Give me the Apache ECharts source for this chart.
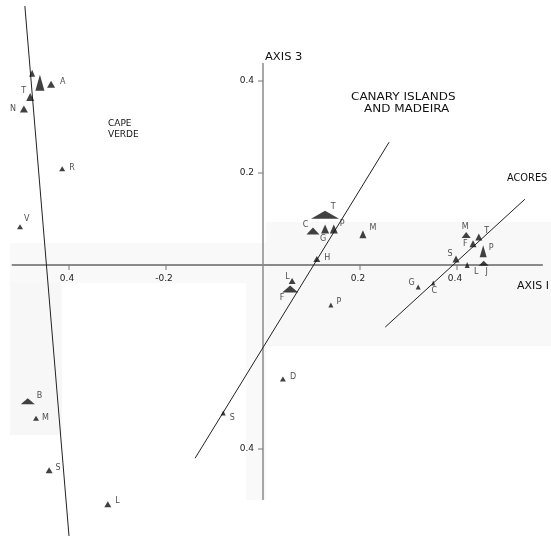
<!DOCTYPE html>
<html>
<head>
<meta charset="utf-8">
<script src="https://cdn.jsdelivr.net/npm/echarts@6/dist/echarts.min.js"></script>
<style>
  html, body { margin: 0; padding: 0; background: #fff; }
  #chart { width: 551px; height: 538px; }
</style>
</head>
<body>
<div id="chart"></div>
<script>
// ---- Island scores on axis 1 and axis 3 ----
const capeVerdeIslands = ['', '', 'A', 'T', 'N', 'R', 'V', 'B', 'M', 'S', 'L'];
const capeVerdeAxis1 = [-0.476, -0.460, -0.437, -0.480, -0.493, -0.414, -0.501, -0.485, -0.468, -0.441, -0.320];
const capeVerdeAxis3 = [0.417, 0.396, 0.393, 0.365, 0.339, 0.209, 0.083, -0.296, -0.333, -0.446, -0.520];

const canaryIslands = ['T', 'C', 'G', 'P', 'M', 'H', 'L', 'F', 'P', 'D', 'S'];
const canaryAxis1 = [0.128, 0.103, 0.128, 0.146, 0.206, 0.111, 0.060, 0.056, 0.140, 0.041, -0.082];
const canaryAxis3 = [0.109, 0.074, 0.078, 0.078, 0.067, 0.013, -0.035, -0.052, -0.087, -0.248, -0.322];

const acoresIslands = ['M', 'T', 'F', 'P', 'S', 'L', 'J', 'G', 'C'];
const acoresAxis1 = [0.419, 0.445, 0.433, 0.454, 0.398, 0.421, 0.455, 0.320, 0.351];
const acoresAxis3 = [0.065, 0.061, 0.046, 0.030, 0.013, 0.000, 0.004, -0.048, -0.039];

// Fitted trend line of each archipelago (two end points each)
const capeVerdeTrend = [[-0.491, 0.563], [-0.400, -0.589]];
const canaryTrend = [[-0.140, -0.420], [0.260, 0.267]];
const acoresTrend = [[0.252, -0.135], [0.540, 0.143]];

// Axis extents and tick labels
const axis1Extent = [-0.518, 0.577];
const axis3Extent = [0.439, -0.511];
const axis1Ticks = [-0.4, -0.2, 0.2, 0.4];
const axis1TickLabels = ['0.4', '-0.2', '0.2', '0.4'];
const axis3Ticks = [0.4, 0.2, -0.4];
const axis3TickLabels = ['0.4', '0.2', '0.4'];

// ---- Styling: marker sizes [w, h] and label placement [position, dx, dy] ----
const capeVerdeSizes = [[6,7],[9,16],[8,7],[8,8],[8,7],[6,5],[6,5],[14,6],[6,5],[7,6],[7,6]];
const capeVerdePlace = [['right',0,0],['right',0,0],['right',3,-2],['left',2,-6],['left',-2,0],['right',2,-1],
  ['right',-1,-8],['right',0,-5],['right',1,0],['right',1,-2],['right',2,-3]];
const canarySizes = [[28,8],[13,7],[8,9],[8,9],[7,8],[7,6],[7,6],[16,7],[5,5],[6,5],[5,5]];
const canaryPlace = [['top',8,2],['left',4,-6],['bottom',-2,-1],['right',0,-5],['right',1,-6],['right',2,-1],
  ['left',3,-4],['bottom',-8,0],['right',1,-3],['right',2,-2],['right',2,5]];
const acoresSizes = [[9,6],[7,7],[7,7],[7,12],[7,7],[5,6],[10,5],[5,5],[4,5]];
const acoresPlace = [['top',-1,1],['right',0,-6],['left',0,0],['right',0,-3],['left',2,-5],['bottom',9,-2],
  ['bottom',3,0],['left',1,-4],['bottom',1,-1]];

const INK = '#111';
const TEXT = '#222';
const HEAD = '#111';
const FONT = 'DejaVu Sans';

function islandPoints(names, a1, a3, sizes, place) {
  return names.map((n, i) => ({
    name: n,
    value: [a1[i], a3[i]],
    symbolSize: sizes[i],
    label: { show: n !== '', position: place[i][0], offset: [place[i][1], place[i][2]] }
  }));
}

function islandSeries(name, data) {
  return {
    name, type: 'scatter', symbol: 'triangle', data, z: 5,
    itemStyle: { color: INK },
    label: { formatter: '{b}', fontSize: 8, color: TEXT, fontFamily: FONT, distance: 2 },
    clip: false
  };
}

function trendSeries(data) {
  return {
    type: 'line', data, symbol: 'none', z: 3, clip: false,
    lineStyle: { color: '#222', width: 1 }, silent: true
  };
}

// Stretched lettering for the headings
function heading(text, x, y, size, stretch, lineHeight) {
  return {
    type: 'text', x, y, scaleX: stretch, scaleY: 1,
    style: { text, font: size + 'px "DejaVu Sans"', fill: HEAD, lineHeight: lineHeight || size + 2,
      textAlign: 'left', textVerticalAlign: 'top' }
  };
}

const tickData = axis1Ticks.map(v => [v, 0]).concat(axis3Ticks.map(v => [0, v]));

const chart = echarts.init(document.getElementById('chart'), null, { renderer: 'canvas' });
chart.setOption({
  animation: false,
  backgroundColor: '#fff',
  grid: { left: 1.1, right: 6.7, top: 2.8, bottom: 1.6, containLabel: false },
  xAxis: { type: 'value', min: -0.54, max: 0.58, show: false },
  yAxis: { type: 'value', min: -0.59, max: 0.57, show: false },
  graphic: [
    // faint grey patches of the printed page
    { type: 'rect', shape: { x: 266, y: 222, width: 285, height: 124 }, style: { fill: '#f8f8f8' }, z: -10 },
    { type: 'rect', shape: { x: 10, y: 243, width: 256, height: 40 }, style: { fill: '#f9f9f9' }, z: -10 },
    { type: 'rect', shape: { x: 10, y: 283, width: 52, height: 152 }, style: { fill: '#f7f7f7' }, z: -10 },
    { type: 'rect', shape: { x: 246, y: 283, width: 20, height: 217 }, style: { fill: '#f9f9f9' }, z: -10 },
    // headings
    heading('CAPE\nVERDE', 108, 118, 9, 1.0, 11),
    heading('CANARY ISLANDS', 351, 91, 10, 1.2),
    heading('AND MADEIRA', 364, 103, 10, 1.2),
    heading('ACORES', 507, 172, 10, 0.98),
    heading('AXIS 3', 265, 51, 10, 1.15),
    heading('AXIS I', 517, 280, 10, 1.1)
  ],
  series: [
    // main axes
    { type: 'line', data: [[axis1Extent[0], 0], [axis1Extent[1], 0]], symbol: 'none', z: 2, clip: false,
      lineStyle: { color: '#8a8a8a', width: 2 }, silent: true },
    { type: 'line', data: [[0, axis3Extent[0]], [0, axis3Extent[1]]], symbol: 'none', z: 2, clip: false,
      lineStyle: { color: '#8a8a8a', width: 1.5 }, silent: true },
    // tick marks and tick labels
    {
      type: 'custom', data: tickData, z: 4, clip: false, silent: true,
      renderItem: (params, api) => {
        const i = params.dataIndex;
        const p = api.coord(tickData[i]);
        const onX = i < axis1Ticks.length;
        const text = onX ? axis1TickLabels[i] : axis3TickLabels[i - axis1Ticks.length];
        if (onX) {
          return { type: 'group', children: [
            { type: 'line', shape: { x1: p[0], y1: p[1], x2: p[0], y2: p[1] + 5 }, style: { stroke: '#777', lineWidth: 1 } },
            { type: 'text', x: p[0] - 2, y: p[1] + 9, style: { text, font: '9px "DejaVu Sans"', fill: TEXT, textAlign: 'center', textVerticalAlign: 'top' } }
          ]};
        }
        return { type: 'group', children: [
          { type: 'line', shape: { x1: p[0] - 5, y1: p[1], x2: p[0], y2: p[1] }, style: { stroke: '#777', lineWidth: 1 } },
          { type: 'text', x: p[0] - 9, y: p[1], style: { text, font: '9px "DejaVu Sans"', fill: TEXT, textAlign: 'right', textVerticalAlign: 'middle' } }
        ]};
      }
    },
    trendSeries(capeVerdeTrend),
    trendSeries(canaryTrend),
    trendSeries(acoresTrend),
    islandSeries('Cape Verde', islandPoints(capeVerdeIslands, capeVerdeAxis1, capeVerdeAxis3, capeVerdeSizes, capeVerdePlace)),
    islandSeries('Canary Islands and Madeira', islandPoints(canaryIslands, canaryAxis1, canaryAxis3, canarySizes, canaryPlace)),
    islandSeries('Acores', islandPoints(acoresIslands, acoresAxis1, acoresAxis3, acoresSizes, acoresPlace))
  ]
});
</script>
</body>
</html>
